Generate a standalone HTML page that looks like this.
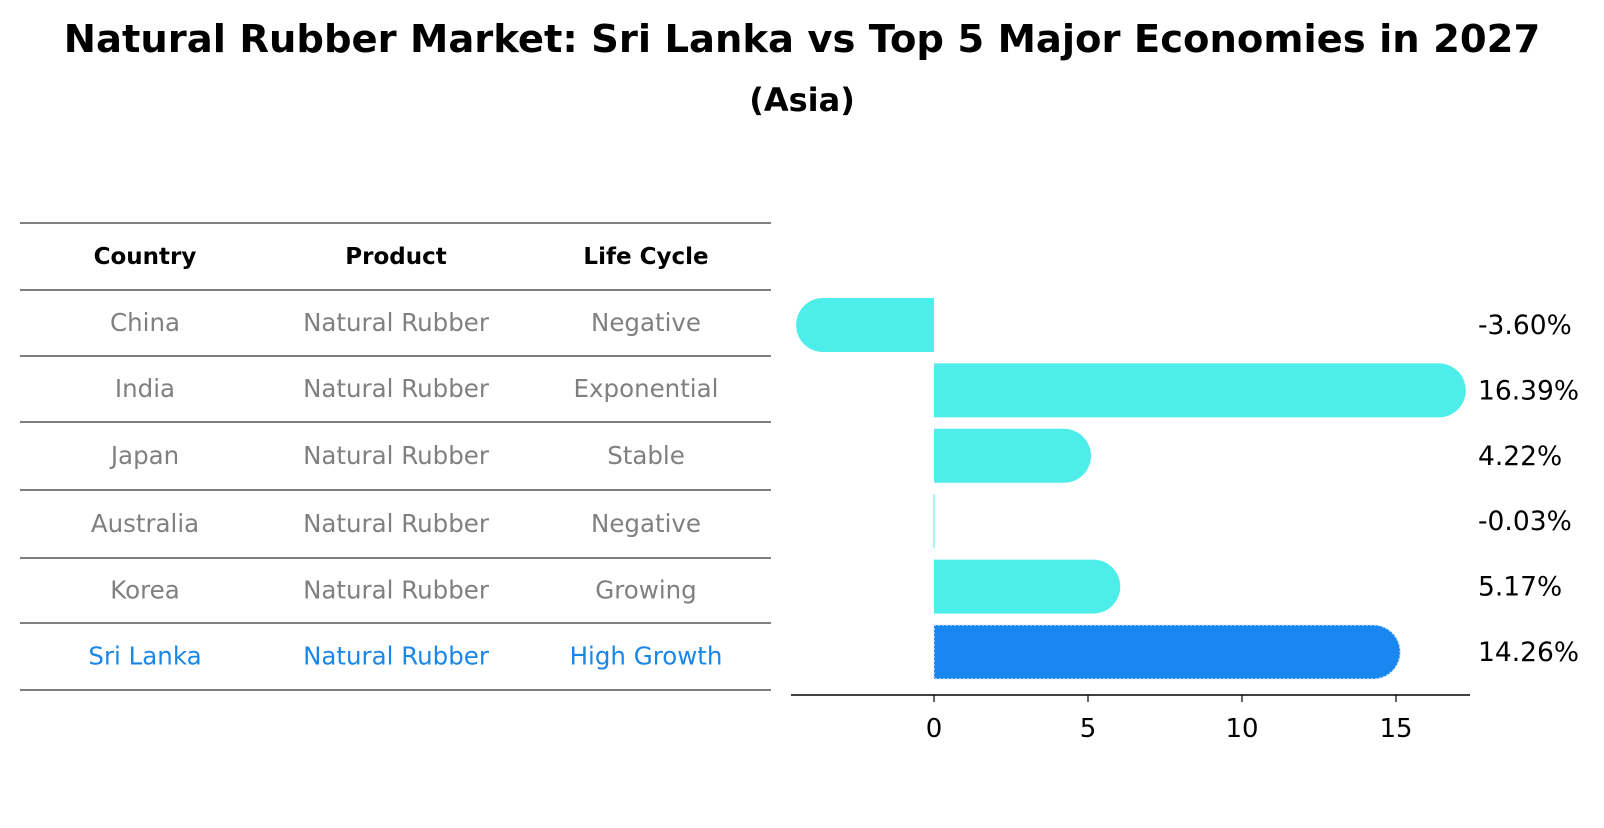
<!DOCTYPE html>
<html><head><meta charset="utf-8"><style>
body{margin:0;background:#fff;font-family:"Liberation Sans","DejaVu Sans",sans-serif}
svg text{font-family:"DejaVu Sans","Liberation Sans",sans-serif}
</style></head><body>
<svg id="c" width="1604" height="823" xmlns="http://www.w3.org/2000/svg">
<text x="802" y="52" text-anchor="middle" font-size="38.5" font-weight="bold">Natural Rubber Market: Sri Lanka vs Top 5 Major Economies in 2027</text>
<text x="802" y="111" text-anchor="middle" font-size="32" font-weight="bold">(Asia)</text>
<g id="tbl"></g>
<g id="bars"></g>
</svg>
<script>
const countries=["China","India","Japan","Australia","Korea","Sri Lanka"];
const products=["Natural Rubber","Natural Rubber","Natural Rubber","Natural Rubber","Natural Rubber","Natural Rubber"];
const lifecycle=["Negative","Exponential","Stable","Negative","Growing","High Growth"];
const values=[-3.60,16.39,4.22,-0.03,5.17,14.26];
const ticks=[0,5,10,15];
const NS="http://www.w3.org/2000/svg";
function mk(t,a,p){const e=document.createElementNS(NS,t);for(const k in a)e.setAttribute(k,a[k]);p.appendChild(e);return e;}
const tbl=document.getElementById('tbl'),bars=document.getElementById('bars');
const lineYs=[223,290,356,422,490,558,623,690];
const colX=[145,396,646];
lineYs.forEach((y,i)=>{const l=mk('line',{x1:20,x2:771,y1:y,y2:y,stroke:'#000','stroke-width':1},tbl);

});
["Country","Product","Life Cycle"].forEach((h,j)=>{const t=mk('text',{x:colX[j],y:264,'text-anchor':'middle','font-size':23,'font-weight':'bold'},tbl);t.textContent=h;

});
countries.forEach((c,i)=>{const y=(lineYs[i+1]+lineYs[i+2])/2+8;const col=i==5?'#1a86e8':'#808080';
[c,products[i],lifecycle[i]].forEach((v,j)=>{const t=mk('text',{x:colX[j],y:y,'text-anchor':'middle','font-size':24.5,fill:col},tbl);t.textContent=v;

});});
const x0=934,ppu=30.8;const X=v=>x0+v*ppu;
const rowY=i=>325+i*65.4;const bh=54,r=27;
const ax=mk('line',{x1:791,x2:1470,y1:695,y2:695,stroke:'#000','stroke-width':1.5},bars);


ticks.forEach(t=>{const x=X(t);mk('line',{x1:x,x2:x,y1:695,y2:702,stroke:'#000','stroke-width':1.2},bars);
const tx=mk('text',{x:x,y:737,'text-anchor':'middle','font-size':26},bars);tx.textContent=t;

});
values.forEach((v,i)=>{const cy=rowY(i),top=cy-bh/2,xe=X(v),xs=X(0);const hl=i==5;
let d;
if(Math.abs(xe-xs)<1){d=`M${xs-0.5},${top}h1v${bh}h-1z`;}
else if(v>=0){d=`M${xs},${top}H${xe}A${r},${r} 0 0 1 ${xe},${top+bh}H${xs}Z`;}
else{d=`M${xs},${top}H${xe}A${r},${r} 0 0 0 ${xe},${top+bh}H${xs}Z`;}
const p=mk('path',{d:d,fill:hl?'#1a86f0':'#4deee9'},bars);
if(hl){p.setAttribute('stroke','#cfe6ff');p.setAttribute('stroke-width','1.5');p.setAttribute('stroke-dasharray','2,2');}


const t=mk('text',{x:1478,y:cy+9,'font-size':26.5},bars);t.textContent=v.toFixed(2)+'%';

});
</script>
</body></html>
